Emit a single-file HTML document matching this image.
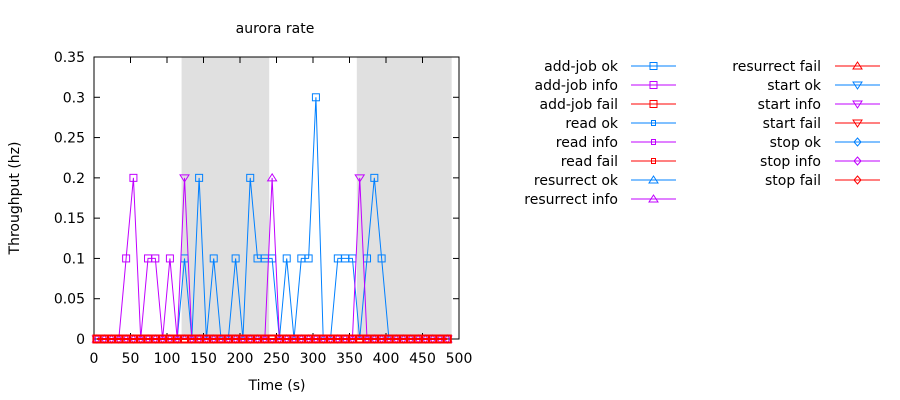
<!DOCTYPE html>
<html><head><meta charset="utf-8"><style>
body{margin:0;background:#fff}
svg{display:block;font-family:"DejaVu Sans","Liberation Sans",sans-serif}
</style></head><body>
<svg id="chart" width="900" height="400">
<rect width="900" height="400" fill="#fff"/>
<text x="275" y="33" font-size="14" text-anchor="middle">aurora rate</text>
<g id="bands"></g><g id="axes"></g><g id="series"></g><g id="legend"></g>
<text transform="translate(19,198) rotate(-90)" font-size="14" text-anchor="middle">Throughput (hz)</text>
<text x="277" y="390" font-size="14" text-anchor="middle">Time (s)</text>
</svg>
<script>
const xTicks=[0,50,100,150,200,250,300,350,400,450,500];
const yTicks=[0,0.05,0.1,0.15,0.2,0.25,0.3,0.35];
const yTickLabels=["0","0.05","0.1","0.15","0.2","0.25","0.3","0.35"];
const bandRanges=[[120,240],[360,490]];
const times=[4,14,24,34,44,54,64,74,84,94,104,114,124,134,144,154,164,174,184,194,204,214,224,234,244,254,264,274,284,294,304,314,324,334,344,354,364,374,384,394,404,414,424,434,444,454,464,474,484];
const addJobOk=[0,0,0,0,0,0,0,0,0,0,0,0,0.1,0,0.2,0,0.1,0,0,0.1,0,0.2,0.1,0.1,0.1,0,0.1,0,0.1,0.1,0.3,0,0,0.1,0.1,0.1,0,0.1,0.2,0.1,0,0,0,0,0,0,0,0,0];
const addJobInfo=[0,0,0,0,0.1,0.2,0,0.1,0.1,0,0.1,0,0,0,0,0,0,0,0,0,0,0,0,0,0,0,0,0,0,0,0,0,0,0,0,0,0,0,0,0,0,0,0,0,0,0,0,0,0];
const startInfo=[0,0,0,0,0,0,0,0,0,0,0,0,0.2,0,0,0,0,0,0,0,0,0,0,0,0,0,0,0,0,0,0,0,0,0,0,0,0.2,0,0,0,0,0,0,0,0,0,0,0,0];
const resurrectInfo=[0,0,0,0,0,0,0,0,0,0,0,0,0,0,0,0,0,0,0,0,0,0,0,0,0.2,0,0,0,0,0,0,0,0,0,0,0,0,0,0,0,0,0,0,0,0,0,0,0,0];
const failValues=times.map(()=>0);
const legendCol1=["add-job ok","add-job info","add-job fail","read ok","read info","read fail","resurrect ok","resurrect info"];
const legendCol2=["resurrect fail","start ok","start info","start fail","stop ok","stop info","stop fail"];
const BLUE="#0080ff",PUR="#c000ff",RED="#ff0000";
const L=94,R=459,T=57,B=339;
const X=v=>L+(v-0)/(500-0)*(R-L);
const Y=v=>B-v/0.35*(B-T);
const NS="http://www.w3.org/2000/svg";
function mk(tag,attrs,parent){const e=document.createElementNS(NS,tag);for(const k in attrs)e.setAttribute(k,attrs[k]);parent.appendChild(e);return e;}
const bands=document.getElementById('bands');
bandRanges.forEach(b=>{const r=mk('rect',{x:X(b[0]),y:T,width:X(b[1])-X(b[0]),height:B-T,fill:'#e0e0e0'},bands);

});
const ax=document.getElementById('axes');
xTicks.forEach(t=>{const x=X(t);
mk('line',{x1:x,y1:B,x2:x,y2:B-6,stroke:'#000'},ax);mk('line',{x1:x,y1:T,x2:x,y2:T+6,stroke:'#000'},ax);
const tx=mk('text',{x:x,y:B+24,'font-size':14,'text-anchor':'middle'},ax);tx.textContent=t;

});
yTicks.forEach((t,i)=>{const y=Y(t);
mk('line',{x1:L,y1:y,x2:L+6,y2:y,stroke:'#000'},ax);mk('line',{x1:R,y1:y,x2:R-6,y2:y,stroke:'#000'},ax);
const tx=mk('text',{x:L-9,y:y+5,'font-size':14,'text-anchor':'end'},ax);tx.textContent=yTickLabels[i];

});
const fr=mk('rect',{x:L,y:T,width:R-L,height:B-T,fill:'none',stroke:'#000'},ax);


function marker(g,type,x,y,c,w){w=w||1;
 if(type==='sq')mk('rect',{x:x-3.5,y:y-3.5,width:7,height:7,fill:'none',stroke:c,'stroke-width':w},g);
 else if(type==='sm')mk('rect',{x:x-2,y:y-2.5,width:4,height:5,fill:'none',stroke:c},g);
 else if(type==='tu')mk('polygon',{points:`${x},${y-4} ${x-4.5},${y+3} ${x+4.5},${y+3}`,fill:'none',stroke:c},g);
 else if(type==='td')mk('polygon',{points:`${x},${y+4} ${x-4.5},${y-3} ${x+4.5},${y-3}`,fill:'none',stroke:c},g);
 else if(type==='di')mk('polygon',{points:`${x},${y-4} ${x+3.5},${y} ${x},${y+4} ${x-3.5},${y}`,fill:'none',stroke:c},g);
}
const sg=document.getElementById('series');
function series(name,vals,c,type,w){const g=mk('g',{},sg);


mk('polyline',{points:vals.map((v,i)=>X(times[i])+','+Y(v)).join(' '),fill:'none',stroke:c,'stroke-width':w||1},g);
vals.forEach((v,i)=>marker(g,type,X(times[i]),Y(v),c,w));}
series('series-add-job-ok',addJobOk,BLUE,'sq');
series('series-add-job-info',addJobInfo,PUR,'sq');
series('series-start-info',startInfo,PUR,'td');
series('series-resurrect-info',resurrectInfo,PUR,'tu');
series('series-add-job-fail',failValues,RED,'sq',2);
const col1Colors=[BLUE,PUR,RED,BLUE,PUR,RED,BLUE,PUR],col1Types=['sq','sq','sq','sm','sm','sm','tu','tu'];
const col2Colors=[RED,BLUE,PUR,RED,BLUE,PUR,RED],col2Types=['tu','td','td','td','di','di','di'];
const lg=document.getElementById('legend');
function legendCol(labels,colors,types,tx,lx1,lx2){labels.forEach((s,i)=>{const y=66+i*19;const g=mk('g',{},lg);


const t=mk('text',{x:tx,y:y+5,'font-size':14,'text-anchor':'end'},g);t.textContent=s;
mk('line',{x1:lx1,y1:y,x2:lx2,y2:y,stroke:colors[i]},g);marker(g,types[i],(lx1+lx2)/2,y,colors[i]);});}
legendCol(legendCol1,col1Colors,col1Types,618,631,676);
legendCol(legendCol2,col2Colors,col2Types,821,835,880);
</script>
</body></html>
